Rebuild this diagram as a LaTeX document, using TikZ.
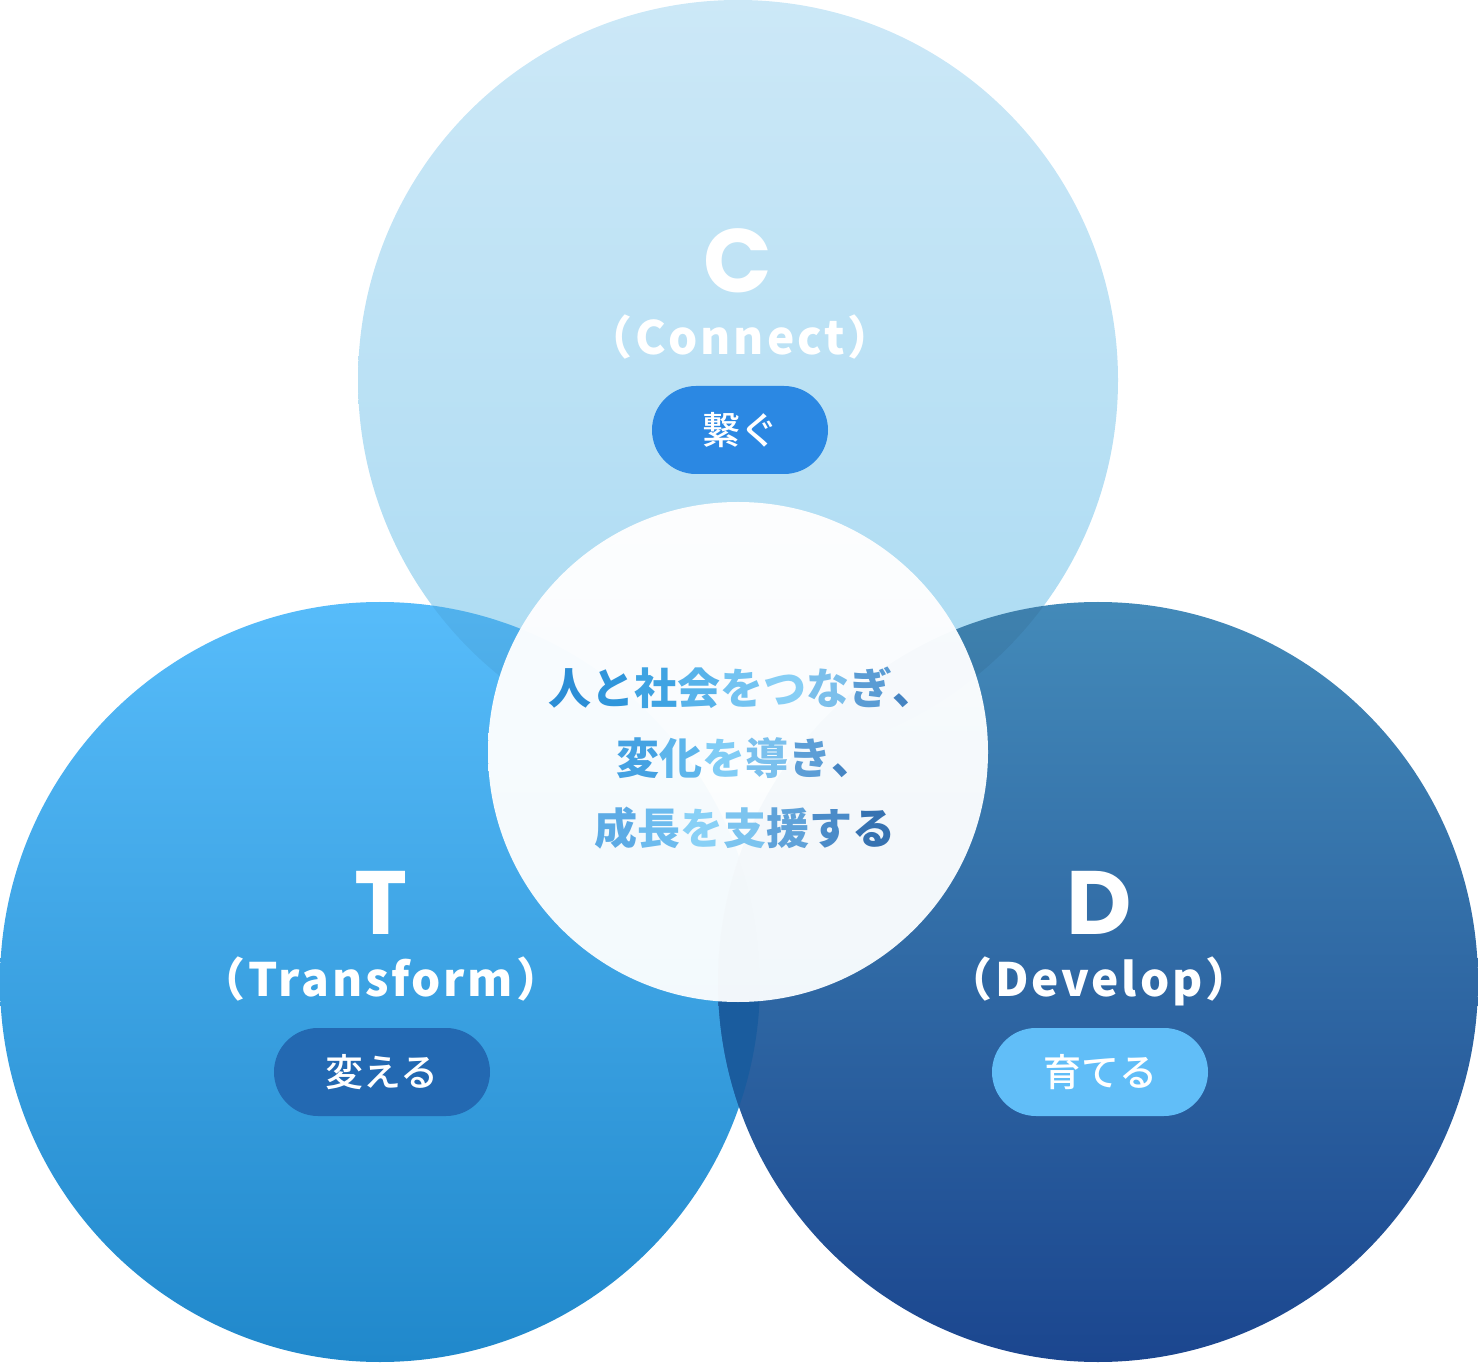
\documentclass[tikz,border=0pt]{standalone}
\usepackage{fontspec}
\newfontfamily\jp{Noto Sans CJK JP}
\IfFontExistsTF{Noto Sans CJK JP Medium}
  {\newfontfamily\jpmed{Noto Sans CJK JP Medium}}
  {\newfontfamily\jpmed{Noto Sans CJK JP}[FakeBold=1.2]}
\newfontfamily\jpwide{Noto Sans CJK JP}[LetterSpace=6]
\newfontfamily\jpmid{Noto Sans CJK JP}[LetterSpace=5]
\newfontfamily\geo{Poppins}
\definecolor{ctop}{HTML}{CCE8F7}
\definecolor{cbot}{HTML}{A9DAF2}
\definecolor{ttop}{HTML}{57BCFA}
\definecolor{tbot}{HTML}{2088CB}
\definecolor{dtop}{HTML}{438AB9}
\definecolor{dbot}{HTML}{1B468F}
\definecolor{tdlens}{HTML}{1A5C9E}
\definecolor{pillC}{HTML}{2B88E3}
\definecolor{pillT}{HTML}{2369B2}
\definecolor{pillD}{HTML}{61BEF8}
\newcommand{\gc}[2]{\textcolor[HTML]{#1}{#2}}
\tikzset{
  bigletter/.style={text=white, font=\geo\bfseries\fontsize{45}{46}\selectfont, anchor=base, inner sep=0pt, text depth=0pt},
  subtitle/.style={text=white, font=\jpwide\bfseries\fontsize{23}{24}\selectfont, anchor=base, inner sep=0pt},
  pill/.style={rounded corners=22pt, minimum height=44pt, inner sep=0pt, text=white, font=\jpmed\fontsize{19}{20}\selectfont},
  motto/.style={font=\jpmid\bfseries\fontsize{21.5}{22}\selectfont, anchor=base, inner sep=0pt},
}
\begin{document}
\begin{tikzpicture}[x=0.5pt, y=0.5pt]
  \useasboundingbox (0,0) rectangle (1478,1362);
  \coordinate (cC) at (738,982);
  \coordinate (cT) at (380,380);
  \coordinate (cD) at (1098,380);
  \coordinate (cM) at (738,610);

  % the three circles
  \shade[top color=ctop, bottom color=cbot] (cC) circle (380);
  \shade[top color=ttop, bottom color=tbot] (cT) circle (380);
  \shade[top color=dtop, bottom color=dbot] (cD) circle (380);

  % overlaps
  \begin{scope}
    \clip (cC) circle (380);
    \fill[black, opacity=0.05] (cT) circle (380);
    \fill[black, opacity=0.06] (cD) circle (380);
  \end{scope}
  \begin{scope}
    \clip (cT) circle (380);
    \fill[tdlens] (cD) circle (380);
  \end{scope}

  % middle circle
  \shade[top color=white, bottom color=white!93!cbot, opacity=0.97] (cM) circle (250);

  % C
  \node[bigletter] (letterC) at (738,1069) {C};
  \node[subtitle] (nameC) at (740,1007) {（Connect）};
  \node[pill, fill=pillC, minimum width=88pt] (pillC) at (740,932) {繋ぐ};

  % T
  \node[bigletter] (letterT) at (381,428) {T};
  \node[subtitle] (nameT) at (381,366) {（Transform）};
  \node[pill, fill=pillT, minimum width=108pt] (pillT) at (382,290) {変える};

  % D
  \node[bigletter] (letterD) at (1099,428) {D};
  \node[subtitle] (nameD) at (1099,366) {（Develop）};
  \node[pill, fill=pillD, minimum width=108pt] (pillD) at (1100,290) {育てる};

  % centre text
  \node[motto] (line1) at (742,657) {\gc{2C8ED6}{人}\gc{3096DB}{と}\gc{3FA3E2}{社}\gc{58B3EA}{会}\gc{73C3F1}{を}\gc{86CEF5}{つ}\gc{7BBFEB}{な}\gc{5A9CD4}{ぎ}\gc{4584C2}{、}};
  \node[motto] (line2) at (745,588) {\gc{45A2E2}{変}\gc{5DB5EB}{化}\gc{80CCF5}{を}\gc{7AC0ED}{導}\gc{5C9ED6}{き}\gc{4585C3}{、}};
  \node[motto] (line3) at (745,517) {\gc{5DABE5}{成}\gc{6CBBEE}{長}\gc{88D0F6}{を}\gc{7CC4EF}{支}\gc{5FA2D9}{援}\gc{4A8BC8}{す}\gc{3672B1}{る}};
\end{tikzpicture}
\end{document}
